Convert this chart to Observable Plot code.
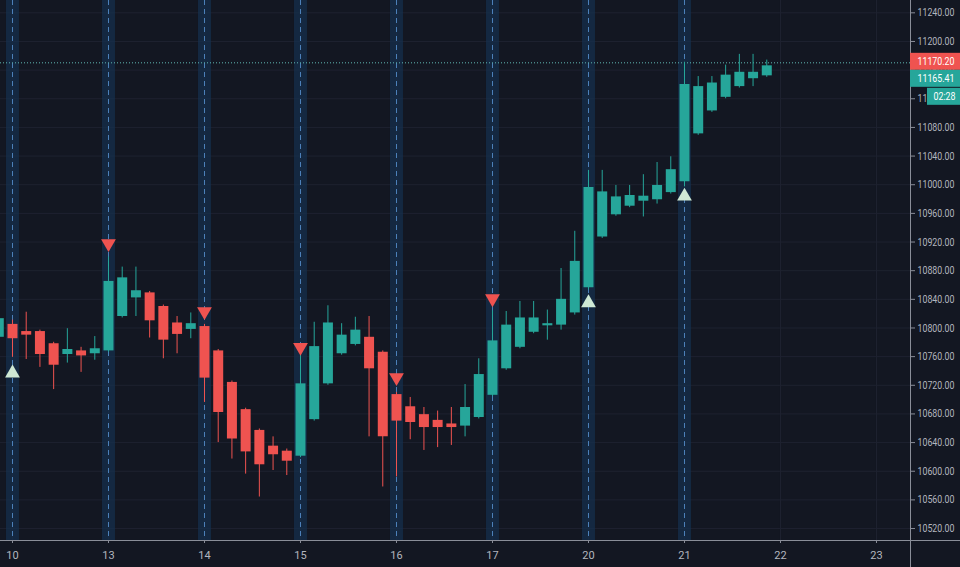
<!DOCTYPE html>
<html>
<head>
<meta charset="utf-8">
<script src="https://cdn.jsdelivr.net/npm/d3@7"></script>
<script src="https://cdn.jsdelivr.net/npm/@observablehq/plot@0.6"></script>
<style>
  html, body { margin: 0; padding: 0; background: #131722; }
  svg { display: block; }
</style>
</head>
<body>
<div id="chart"></div>
<script>
// candle index (7 hourly bars per trading day; index 0 = first bar of day 10)
const candleIdx = d3.range(-1, 56);
const opens = [10787,
  10805,10795,10795,10778,10763,10768,10764,
  10768,10816,10842,10849,10830,10807,10798,
  10802,10768,10724,10686,10657,10635,10628,
  10621,10672,10722,10764,10777,10787,10766,
  10707,10690,10679,10671,10666,10663,10675,
  10706,10743,10773,10794,10803,10804,10821,
  10856,10927,10958,10970,10977,10979,10989,
  11004,11071,11103,11122,11137,11148,11152];
const highs = [10820,
  10811,10822,10797,10780,10799,10773,10788,
  10899,10885,10885,10851,10832,10816,10821,
  10805,10770,10726,10688,10659,10648,10631,
  10762,10808,10831,10806,10815,10816,10768,
  10710,10703,10689,10684,10689,10721,10757,
  10824,10823,10837,10837,10825,10883,10935,
  11020,11020,10999,10999,11014,11031,11039,
  11171,11151,11151,11167,11182,11182,11174];
const lows = [10780,
  10759,10756,10745,10714,10751,10738,10755,
  10766,10814,10816,10786,10757,10764,10785,
  10696,10640,10617,10596,10564,10601,10594,
  10619,10670,10720,10762,10775,10648,10578,
  10592,10644,10629,10633,10636,10648,10673,
  10704,10741,10771,10792,10783,10797,10818,
  10853,10925,10956,10968,10955,10973,10987,
  10997,11069,11101,11120,11135,11137,11150];
const closes = [10813,
  10785,10790,10763,10748,10770,10761,10771,
  10865,10870,10852,10810,10783,10791,10806,
  10730,10682,10645,10627,10609,10623,10614,
  10722,10774,10807,10790,10797,10743,10648,
  10670,10668,10661,10661,10661,10689,10735,
  10782,10804,10814,10814,10806,10840,10893,
  10996,10990,10983,10985,10984,10999,11021,
  11140,11137,11142,11153,11157,11157,11166];

// day axis
const dayIdx = [0, 7, 14, 21, 28, 35, 42, 49, 56, 63];
const dayLabels = ["10", "13", "14", "15", "16", "17", "20", "21", "22", "23"];
const sessionIdx = [0, 7, 14, 21, 28, 35, 42, 49];

// price axis
const priceTicks = d3.range(10520, 11241, 40);

// signal markers
const sellIdx = [7, 14, 21, 28, 35];
const sellPrice = [10918, 10823, 10773, 10731, 10841];
const buyIdx = [0, 42, 49];
const buyPrice = [10737, 10835, 10984];

// price lines / labels
const linePrice = 11170.20;
const lastPrice = 11165.41;
const countdown = "02:28";

const candles = candleIdx.map((i, k) => ({
  i, open: opens[k], high: highs[k], low: lows[k], close: closes[k]
}));
const sells = sellIdx.map((i, k) => ({ i, p: sellPrice[k] }));
const buys = buyIdx.map((i, k) => ({ i, p: buyPrice[k] }));

const UP = "#26a69a", DOWN = "#ef5350";
const col = d => d.close >= d.open ? UP : DOWN;
const FONT = "Roboto, 'DejaVu Sans', sans-serif";

const chart = Plot.plot({
  width: 960,
  height: 567,
  marginLeft: 0,
  marginRight: 50,
  marginTop: 0,
  marginBottom: 27,
  style: { background: "#131722", color: "#b2b5be", fontFamily: FONT, fontSize: "11px" },
  x: { domain: [-0.875, 65.48], axis: null },
  y: { domain: [10503.3, 11257.2], axis: null },
  marks: [
    Plot.ruleY(priceTicks, { stroke: "#1e2230", strokeWidth: 1 }),
    Plot.ruleX(dayIdx, { stroke: "#1e2230", strokeWidth: 1 }),
    Plot.ruleX(sessionIdx, { stroke: "#16304f", strokeWidth: 13, strokeOpacity: 0.7 }),
    Plot.ruleX(sessionIdx, { stroke: "#4d82bb", strokeWidth: 1, strokeDasharray: "5,4" }),
    Plot.ruleY([linePrice], { stroke: "#5fb8b3", strokeWidth: 1, strokeDasharray: "1,2" }),
    Plot.ruleX(candles, { x: "i", y1: "low", y2: "high", stroke: col, strokeWidth: 1 }),
    Plot.ruleX(candles, { x: "i", y1: "open", y2: "close", stroke: col, strokeWidth: 10 }),
    Plot.dot(sells, { x: "i", y: "p", symbol: "triangle", r: 5.5, fill: DOWN, stroke: "none", rotate: 180 }),
    Plot.dot(buys, { x: "i", y: "p", symbol: "triangle", r: 5.5, fill: "#cfe8d4", stroke: "none" }),
    Plot.axisX(dayIdx, {
      anchor: "bottom", label: null, tickSize: 3, tickPadding: 8, stroke: "#8a8e99",
      fill: "#b2b5be", tickFormat: d => dayLabels[dayIdx.indexOf(d)], fontSize: 11
    }),
    Plot.axisY(priceTicks, {
      anchor: "right", label: null, tickSize: 4, tickPadding: 3, stroke: "#8a8e99",
      fill: "#b2b5be", tickFormat: d => d.toFixed(2), fontSize: 11
    })
  ]
});

document.getElementById("chart").appendChild(chart);

const svg = d3.select(chart);
// condense the price labels so they fit the narrow price scale
svg.selectAll('g[aria-label="y-axis tick label"] text')
  .attr("textLength", 37).attr("lengthAdjust", "spacingAndGlyphs");

// axis frame lines and price badges on the right scale
const y = chart.scale("y");
svg.append("line").attr("x1", 0).attr("x2", 960).attr("y1", 540.5).attr("y2", 540.5)
  .attr("stroke", "#8a8e99").attr("stroke-width", 1);
svg.append("line").attr("x1", 910.5).attr("x2", 910.5).attr("y1", 0).attr("y2", 567)
  .attr("stroke", "#8a8e99").attr("stroke-width", 1);

const badges = [
  { text: linePrice.toFixed(2), fill: DOWN, x: 910, w: 50, yc: y.apply(linePrice) - 1, tl: 37 },
  { text: lastPrice.toFixed(2), fill: UP, x: 910, w: 50, yc: y.apply(linePrice) + 16, tl: 37 },
  { text: countdown, fill: UP, x: 927, w: 33, yc: y.apply(linePrice) + 34, tl: 22 }
];
badges.forEach(b => {
  svg.append("rect").attr("x", b.x).attr("width", b.w)
    .attr("y", b.yc - 8.5).attr("height", 17).attr("fill", b.fill);
  svg.append("text").attr("x", b.x + b.w / 2 + 1).attr("y", b.yc)
    .attr("dy", "0.35em").attr("text-anchor", "middle")
    .attr("fill", "#ffffff").attr("font-size", 11).attr("font-family", FONT)
    .attr("textLength", b.tl).attr("lengthAdjust", "spacingAndGlyphs")
    .text(b.text);
});
</script>
</body>
</html>
